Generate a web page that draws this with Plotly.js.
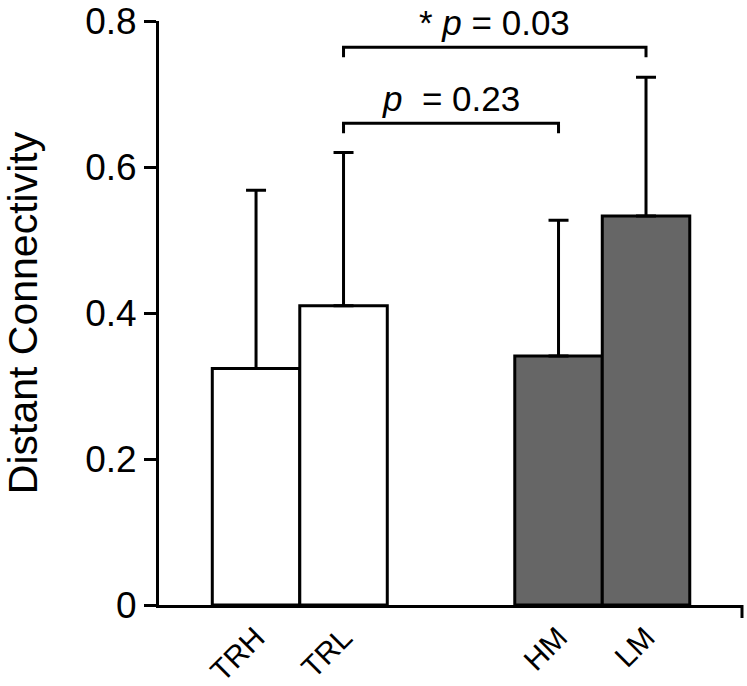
<!DOCTYPE html>
<html>
<head>
<meta charset="utf-8">
<script src="https://cdn.plot.ly/plotly-3.0.1.min.js"></script>
<style>html,body{margin:0;padding:0;background:#fff;}#chart{width:747px;height:686px;}</style>
</head>
<body>
<div id="chart"></div>
<script>
// ---- data ----
const categories = ['TRH', 'TRL', 'HM', 'LM'];
const groups = ['TR', 'TR', 'M', 'M'];
const means = [0.324, 0.410, 0.341, 0.533];
const errors = [0.244, 0.210, 0.186, 0.190];
const yTickVals = [0, 0.2, 0.4, 0.6, 0.8];
const yTickText = ['0', '0.2', '0.4', '0.6', '0.8'];
const bracketFrom = ['TRL', 'TRL'];
const bracketTo = ['HM', 'LM'];
const bracketLevel = [0.660, 0.764];
const bracketText = ['<i>p</i>&nbsp; = 0.23', '* <i>p</i> = 0.03'];

// ---- layout helpers ----
const FONT = 'Liberation Sans, Arial, Helvetica, sans-serif';
const groupGap = 1.457;
const pos = categories.map((c, i) => i + (groups[i] !== groups[0] ? groupGap : 0));
const posOf = name => pos[categories.indexOf(name)];
const groupColor = {TR: '#ffffff', M: '#666666'};

const bars = {
  type: 'bar',
  x: pos,
  y: means,
  width: 1,
  marker: {
    color: groups.map(g => groupColor[g]),
    line: {color: '#000000', width: 3}
  },
  error_y: {
    type: 'data', array: errors, arrayminus: errors.map(() => 0),
    symmetric: false, visible: true, color: '#000000', thickness: 3, width: 10
  },
  hoverinfo: 'skip',
  showlegend: false
};

const tip = 0.0137;
const bracketTraces = bracketFrom.map((f, k) => ({
  type: 'scatter', mode: 'lines',
  x: [posOf(f), posOf(f), posOf(bracketTo[k]), posOf(bracketTo[k])],
  y: [bracketLevel[k] - tip, bracketLevel[k], bracketLevel[k], bracketLevel[k] - tip],
  line: {color: '#000000', width: 3},
  hoverinfo: 'skip', showlegend: false
}));

const annotations = bracketFrom.map((f, k) => ({
  x: (posOf(f) + posOf(bracketTo[k])) / 2,
  y: bracketLevel[k] + 0.006,
  xref: 'x', yref: 'y',
  text: bracketText[k],
  showarrow: false,
  xanchor: 'center', yanchor: 'bottom',
  borderpad: 0,
  font: {family: FONT, size: 35, color: '#000000'}
}));

const layout = {
  width: 747, height: 686,
  margin: {l: 159, r: 5, t: 21, b: 81, pad: 0},
  paper_bgcolor: '#ffffff', plot_bgcolor: '#ffffff',
  font: {family: FONT, color: '#000000'},
  xaxis: {
    range: [-1.109, 5.554],
    tickvals: pos, ticktext: categories,
    tickangle: -45,
    ticks: '', showgrid: false, zeroline: false,
    showline: true, linecolor: '#000000', linewidth: 3,
    tickfont: {family: FONT, size: 30, color: '#000000'},
    fixedrange: true
  },
  yaxis: {
    range: [0, 0.8],
    tickvals: yTickVals, ticktext: yTickText,
    ticks: 'outside', ticklen: 12, tickwidth: 3, tickcolor: '#000000',
    showgrid: false, zeroline: false,
    showline: true, linecolor: '#000000', linewidth: 3,
    tickfont: {family: FONT, size: 37, color: '#000000'},
    title: {text: 'Distant Connectivity', font: {family: FONT, size: 41, color: '#000000'}, standoff: 40},
    automargin: false,
    fixedrange: true
  },
  shapes: [{
    type: 'line', xref: 'paper', yref: 'paper',
    x0: 1, x1: 1, y0: 0, y1: -13 / 584,
    line: {color: '#000000', width: 3}
  }],
  annotations: annotations,
  showlegend: false
};

Plotly.newPlot('chart', [bars].concat(bracketTraces), layout, {displayModeBar: false, staticPlot: true});
</script>
</body>
</html>
